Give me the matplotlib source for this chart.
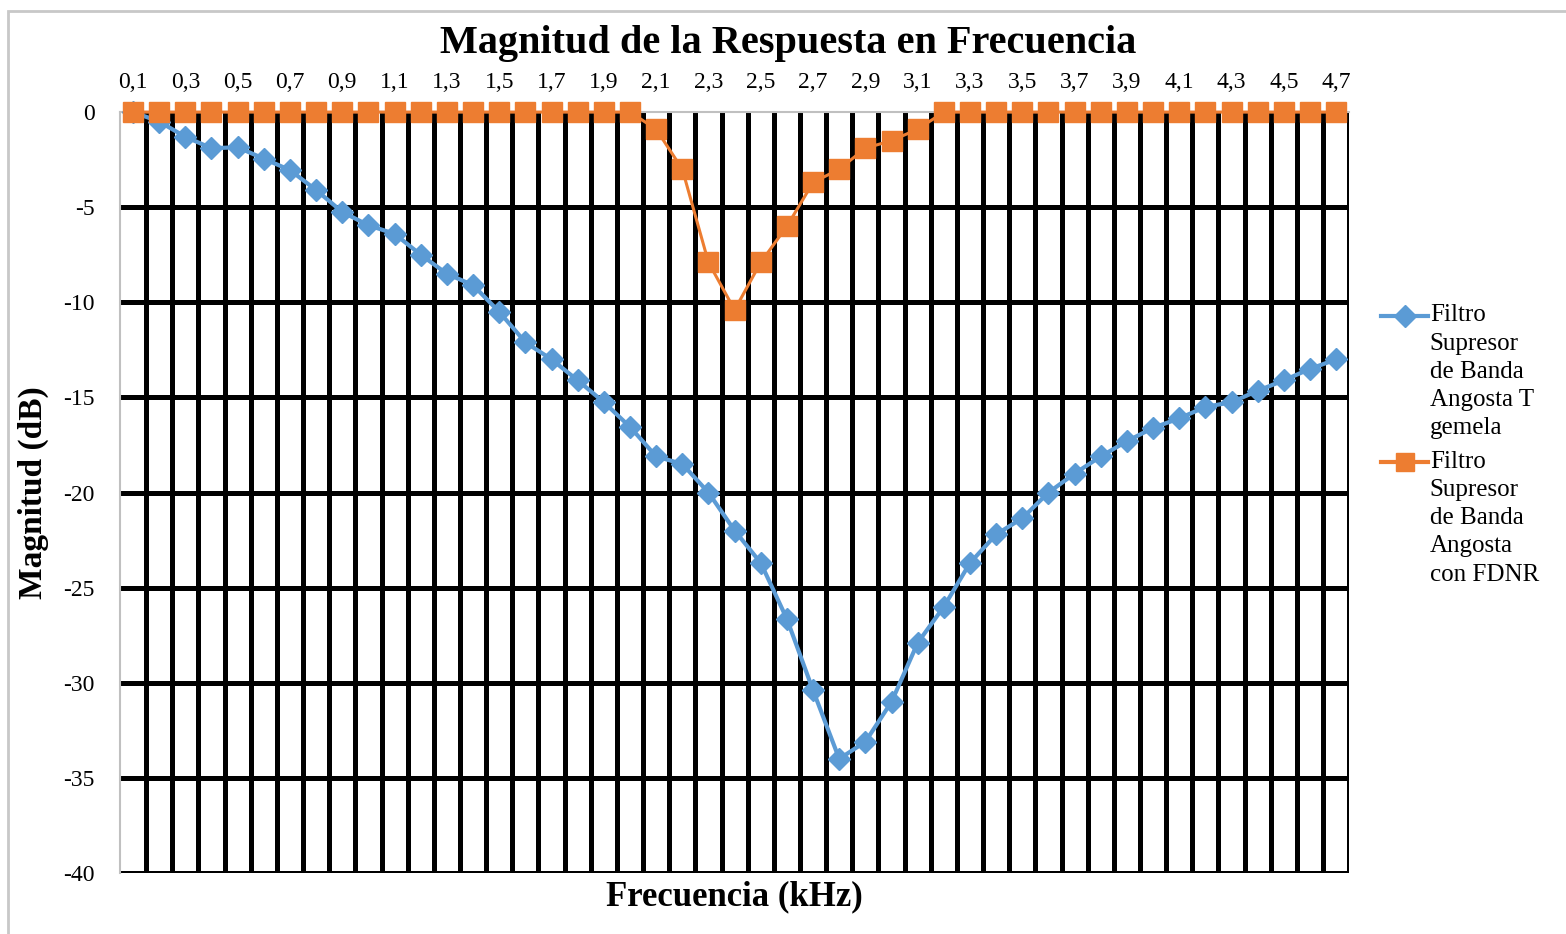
import numpy as np
import matplotlib
matplotlib.use("Agg")
import matplotlib.pyplot as plt
from matplotlib.lines import Line2D
from matplotlib.patches import Rectangle

# frecuencias (kHz), 0,1 ... 4,7
freq = [round(0.1 * k, 1) for k in range(1, 48)]

# Filtro supresor de banda angosta T gemela (dB)
t_gemela = [0, -0.5, -1.3, -1.9, -1.85, -2.45, -3.05, -4.1, -5.25, -5.95,
            -6.4, -7.5, -8.5, -9.1, -10.5, -12.1, -13.0, -14.1, -15.25, -16.55,
            -18.1, -18.5, -20.0, -22.0, -23.7, -26.65, -30.4, -34.0, -33.1, -31.0,
            -27.9, -26.0, -23.7, -22.2, -21.35, -20.0, -19.0, -18.1, -17.3, -16.6,
            -16.1, -15.5, -15.25, -14.65, -14.1, -13.5, -13.0]

# Filtro supresor de banda angosta con FDNR (dB)
fdnr = [0] * 19 + [0, -0.9, -3.0, -7.9, -10.4, -7.9, -6.0, -3.7, -3.0, -1.9,
                   -1.5, -0.9, 0] + [0] * 15

y_ticks = [0, -5, -10, -15, -20, -25, -30, -35, -40]
label_blue = "Filtro\nSupresor\nde Banda\nAngosta T\ngemela"
label_orange = "Filtro\nSupresor\nde Banda\nAngosta\ncon FDNR"

blue = "#5B9BD5"
orange = "#ED7D31"
serif = ["Liberation Serif", "DejaVu Serif"]

fig = plt.figure(figsize=(15.66, 9.34), dpi=100)
ax = fig.add_axes([0.0766, 0.0653, 0.785, 0.8147])

x = np.arange(len(freq))
ax.plot(x, t_gemela, color=blue, lw=3, marker="D", ms=11.5, zorder=3,
        clip_on=False)
ax.plot(x, fdnr, color=orange, lw=2.2, marker="s", ms=14, zorder=4,
        clip_on=False)

ax.set_xlim(-0.5, len(freq) - 0.5)
ax.set_ylim(-40, 0)

# eje de categorias arriba
ax.xaxis.tick_top()
ax.set_xticks(x[::2])
ax.set_xticklabels([f"{f:.1f}".replace(".", ",") for f in freq[::2]],
                   fontsize=17, family=serif)
ax.set_xticks(np.arange(0.5, len(freq), 1), minor=True)
ax.tick_params(axis="x", which="both", length=0, pad=14)

ax.set_yticks(y_ticks)
ax.set_yticklabels([str(v) for v in y_ticks], fontsize=17, family=serif)
ax.tick_params(axis="y", length=0, pad=18)

ax.set_axisbelow(True)
ax.xaxis.grid(True, which="minor", color="black", lw=3.6)
ax.yaxis.grid(True, which="major", color="black", lw=3.6)
ax.get_ygridlines()[0].set_visible(False)

for s in ["bottom", "right"]:
    ax.spines[s].set_visible(False)
for s in ["top", "left"]:
    ax.spines[s].set_color("#c0c0c0")
    ax.spines[s].set_linewidth(1.5)

fig.text(0.503, 0.953, "Magnitud de la Respuesta en Frecuencia", ha="center",
         va="center", fontsize=29, fontweight="bold", family=serif)
fig.text(0.469, 0.040, "Frecuencia (kHz)", ha="center", va="center",
         fontsize=25, fontweight="bold", family=serif)
fig.text(0.021, 0.473, "Magnitud (dB)", ha="center", va="center", rotation=90,
         fontsize=24, fontweight="bold", family=serif)

# leyenda a la derecha
for ypos, col, mk, ms, lab in [(0.662, blue, "D", 11, label_blue),
                               (0.505, orange, "s", 13, label_orange)]:
    fig.add_artist(Line2D([0.882, 0.912], [ypos, ypos], color=col, lw=3,
                          marker=None, transform=fig.transFigure))
    fig.add_artist(Line2D([0.897], [ypos], color=col, marker=mk, ms=ms,
                          transform=fig.transFigure))
    fig.text(0.913, ypos + 0.012, lab, ha="left", va="top", fontsize=18,
             family=serif, linespacing=1.36)

fig.add_artist(Rectangle((0.005, -0.01), 1.0, 0.998, transform=fig.transFigure,
                         fill=False, edgecolor="#c8c8c8", lw=2))

fig.savefig("out.png", dpi=100)
